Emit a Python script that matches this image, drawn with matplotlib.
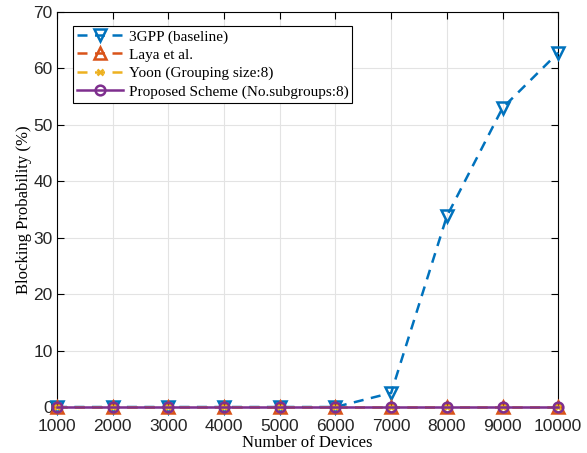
import matplotlib.pyplot as plt
import numpy as np

devices = [1000, 2000, 3000, 4000, 5000, 6000, 7000, 8000, 9000, 10000]
gpp = [0, 0, 0, 0, 0, 0, 2.5, 33.8, 53.0, 62.8]
laya = [0, 0, 0, 0, 0, 0, 0, 0, 0, 0]
yoon = [0, 0, 0, 0, 0, 0, 0, 0, 0, 0]
proposed = [0, 0, 0, 0, 0, 0, 0, 0, 0, 0]

fig = plt.figure(figsize=(5.87, 4.53), dpi=100, facecolor='white')
ax = fig.add_axes([0.097, 0.1015, 0.854, 0.872])

ax.plot(devices, gpp, '--', color='#0072BD', lw=1.8, dashes=(4, 3), marker='v', ms=8, mfc='none', mew=1.8,
        label='3GPP (baseline)', zorder=3, clip_on=False)
ax.plot(devices, laya, '--', color='#D95319', lw=1.8, dashes=(4, 3), marker='^', ms=8, mfc='none', mew=1.8,
        label='Laya et al.', zorder=4, clip_on=False)
ax.plot(devices, yoon, '--', color='#EDB120', lw=1.8, dashes=(4, 3), marker='x', ms=5, mew=1.8,
        label='Yoon (Grouping size:8)', zorder=5, clip_on=False)
ax.plot(devices, proposed, '-', color='#7E2F8E', lw=1.8, marker='o', ms=7, mfc='none', mew=1.8,
        label='Proposed Scheme (No.subgroups:8)', zorder=6, clip_on=False)

ax.set_xlim(1000, 10000)
ax.set_ylim(0, 70)
ax.set_xticks(devices)
ax.set_yticks(np.arange(0, 71, 10))
ax.grid(True, color='#e3e3e3', lw=0.8)
ax.set_axisbelow(True)
ax.tick_params(direction='in', top=True, right=True, length=5, width=0.8, labelsize=12.5)
ax.tick_params(axis='x', pad=8.5)
ax.tick_params(axis='y', pad=3)
for lab in ax.get_xticklabels() + ax.get_yticklabels():
    lab.set_family('Liberation Sans')
    lab.set_color('#262626')
for s in ax.spines.values():
    s.set_linewidth(0.8)

ax.set_xlabel('Number of Devices', family='Liberation Serif', fontsize=12, labelpad=1)
ax.set_ylabel('Blocking Probability (%)', family='Liberation Serif', fontsize=12, labelpad=1)

leg = ax.legend(loc='upper left', bbox_to_anchor=(0.032, 0.965), fancybox=False, framealpha=1,
                edgecolor='black', prop={'family': 'Liberation Serif', 'size': 11},
                handlelength=3.0, handletextpad=0.4, borderpad=0.25, labelspacing=0.3,
                borderaxespad=0)
leg.get_frame().set_linewidth(0.8)

fig.savefig('out.png', dpi=100)
